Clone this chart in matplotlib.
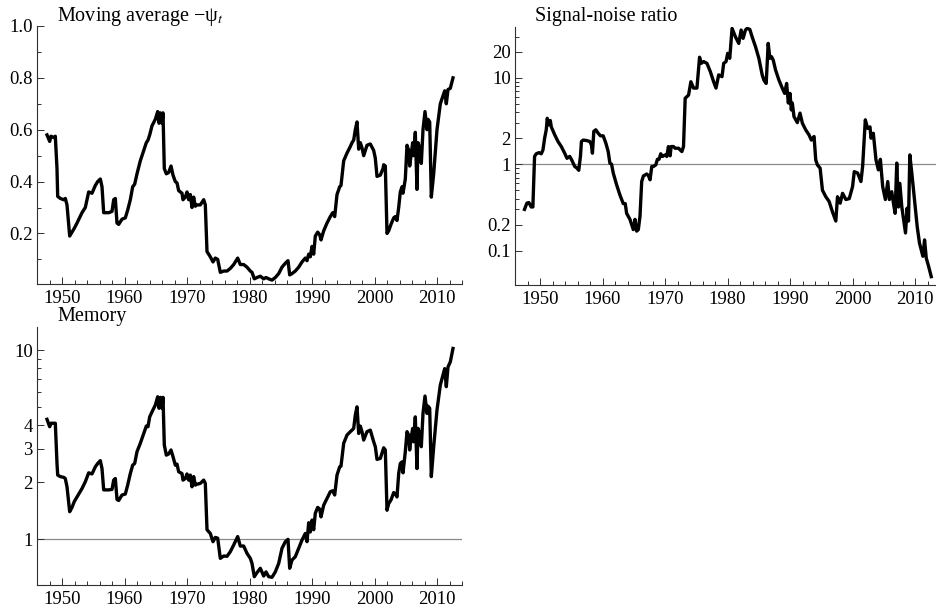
import matplotlib
matplotlib.use('Agg')
import matplotlib.pyplot as plt
from matplotlib.ticker import FixedLocator, FixedFormatter, NullFormatter

# ---------------- data ----------------
years_a = [
    1947.6, 1948.03, 1948.24, 1948.67, 1948.93, 1949.2, 1949.31, 1949.73,
    1950.27, 1950.53, 1950.8, 1951.23, 1951.6, 1951.97, 1952.4, 1953.2, 1953.73, 1954.27,
    1954.8, 1955.33, 1955.71, 1956.13, 1956.4, 1956.67, 1957.47, 1958.0, 1958.27, 1958.53,
    1958.8, 1959.07, 1959.6,
    1960.13, 1960.51, 1960.93, 1961.31, 1961.63, 1962.0, 1962.53, 1963.07, 1963.49, 1963.76,
    1964.03, 1964.4, 1964.93, 1965.31, 1965.52, 1965.73, 1966.0, 1966.16, 1966.37, 1966.69,
    1967.07, 1967.44, 1967.76, 1968.13, 1968.4, 1968.67, 1969.2, 1969.36, 1969.73,
    1970.0, 1970.27, 1970.53, 1970.8, 1971.07, 1971.33, 1971.6, 1972.13, 1972.67, 1972.93,
    1973.2, 1973.73, 1974.16, 1974.53, 1974.91, 1975.33, 1975.87, 1976.4, 1976.93, 1977.47,
    1978.11, 1978.53, 1979.07, 1979.6,
    1980.13, 1980.4, 1980.77, 1981.2, 1981.73, 1982.27, 1982.64, 1983.07, 1983.6, 1984.13,
    1984.67, 1985.2, 1985.73, 1986.16, 1986.43, 1986.8, 1987.33, 1987.87, 1988.4, 1988.93,
    1989.2, 1989.47, 1989.73,
    1990.0, 1990.27, 1990.53, 1990.91, 1991.23, 1991.44, 1991.87, 1992.4, 1992.93, 1993.31,
    1993.63, 1994.0, 1994.43, 1994.64, 1995.07, 1995.6, 1996.13, 1996.4, 1996.67, 1996.93,
    1997.2, 1997.47, 1997.73, 1998.0, 1998.27, 1998.8, 1999.33, 1999.87,
    2000.13, 2000.4, 2000.93, 2001.36, 2001.47, 2001.73, 2002.0, 2002.27, 2002.64, 2003.07,
    2003.33, 2003.6, 2003.87, 2004.13, 2004.4, 2004.56, 2004.93, 2005.2, 2005.47, 2005.63,
    2005.84, 2006.11, 2006.27, 2006.53, 2006.8, 2006.96, 2007.23, 2007.49, 2007.76, 2008.08,
    2008.4, 2008.56, 2008.83, 2009.09, 2009.47,
    2010.0, 2010.53, 2011.23, 2011.49, 2011.76, 2012.13, 2012.56,
]

moving_average = [
    0.58, 0.555, 0.575, 0.57, 0.575, 0.45, 0.343, 0.335,
    0.33, 0.335, 0.31, 0.19, 0.205, 0.22, 0.24, 0.28, 0.3, 0.36,
    0.355, 0.385, 0.40, 0.41, 0.38, 0.28, 0.28, 0.285, 0.33, 0.335,
    0.24, 0.235, 0.255,
    0.26, 0.29, 0.33, 0.38, 0.39, 0.43, 0.48, 0.52, 0.55, 0.56,
    0.58, 0.615, 0.64, 0.67, 0.625, 0.665, 0.625, 0.665, 0.45, 0.43,
    0.435, 0.46, 0.425, 0.40, 0.395, 0.365, 0.355, 0.33, 0.34,
    0.36, 0.33, 0.35, 0.30, 0.34, 0.305, 0.31, 0.31, 0.33, 0.31,
    0.13, 0.11, 0.09, 0.105, 0.1, 0.05, 0.055, 0.055, 0.065, 0.08,
    0.105, 0.08, 0.08, 0.07,
    0.055, 0.05, 0.025, 0.03, 0.035, 0.025, 0.03, 0.025, 0.02, 0.03,
    0.045, 0.07, 0.085, 0.095, 0.04, 0.045, 0.055, 0.07, 0.09, 0.105,
    0.095, 0.12, 0.11,
    0.15, 0.12, 0.19, 0.205, 0.195, 0.175, 0.21, 0.24, 0.265, 0.28,
    0.265, 0.35, 0.38, 0.385, 0.48, 0.51, 0.535, 0.55, 0.56, 0.6,
    0.63, 0.525, 0.55, 0.53, 0.50, 0.54, 0.545, 0.52,
    0.49, 0.42, 0.425, 0.45, 0.465, 0.46, 0.2, 0.21, 0.235, 0.26,
    0.265, 0.25, 0.3, 0.36, 0.38, 0.355, 0.41, 0.54, 0.52, 0.46,
    0.5, 0.55, 0.5, 0.59, 0.37, 0.55, 0.53, 0.47, 0.6, 0.67,
    0.6, 0.64, 0.63, 0.34, 0.43,
    0.6, 0.7, 0.75, 0.7, 0.755, 0.76, 0.80,
]

memory = [
    4.3, 3.93, 4.1, 4.1, 4.1, 2.51, 2.18, 2.14,
    2.12, 2.09, 1.89, 1.395, 1.47, 1.58, 1.67, 1.85, 2.01, 2.24,
    2.21, 2.41, 2.51, 2.6, 2.36, 1.82, 1.82, 1.83, 2.05, 2.09,
    1.62, 1.6, 1.71,
    1.73, 1.93, 2.22, 2.46, 2.51, 2.9, 3.21, 3.62, 3.96, 3.93,
    4.43, 4.71, 5.11, 5.66, 4.92, 5.62, 4.92, 5.62, 3.14, 2.78,
    2.82, 2.96, 2.73, 2.46, 2.49, 2.27, 2.22, 2.05, 2.09,
    2.21, 2.05, 2.18, 1.89, 2.14, 1.93, 1.95, 1.97, 2.05, 1.97,
    1.12, 1.07, 0.968, 1.02, 1.01, 0.79, 0.813, 0.81, 0.857, 0.93,
    1.03, 0.918, 0.918, 0.84,
    0.79, 0.743, 0.632, 0.664, 0.70, 0.637, 0.67, 0.632, 0.627, 0.67,
    0.743, 0.893, 0.968, 0.996, 0.70, 0.774, 0.806, 0.893, 0.988, 1.07,
    0.968, 1.22, 1.09,
    1.26, 1.12, 1.37, 1.47, 1.44, 1.31, 1.51, 1.64, 1.78, 1.80,
    1.71, 2.18, 2.41, 2.43, 3.21, 3.55, 3.7, 3.77, 3.85, 4.53,
    5.01, 3.62, 3.96, 3.7, 3.34, 3.7, 3.77, 3.27,
    3.08, 2.64, 2.67, 2.96, 3.04, 2.96, 1.42, 1.54, 1.61, 1.76,
    1.74, 1.67, 2.22, 2.51, 2.56, 2.24, 2.9, 3.7, 3.55, 2.96,
    3.41, 3.85, 3.27, 4.43, 2.36, 3.85, 3.62, 3.08, 4.62, 5.71,
    4.62, 5.05, 4.92, 2.14, 3.08,
    4.82, 6.53, 7.98, 6.4, 8.14, 8.66, 10.2,
]

years_s = [
    1947.52, 1947.9, 1948.22, 1948.59, 1948.86, 1949.13, 1949.4, 1949.83,
    1950.2, 1950.47, 1950.74, 1951.0, 1951.16, 1951.38, 1951.65, 1951.81, 1952.34, 1952.88,
    1953.41, 1953.95, 1954.32, 1954.75, 1955.02, 1955.56, 1955.93, 1956.2, 1956.47, 1956.63,
    1956.9, 1957.43, 1957.97, 1958.23, 1958.39, 1958.61, 1958.93, 1959.31, 1959.68,
    1960.11, 1960.54, 1960.91, 1961.18, 1961.45, 1961.72, 1962.25, 1962.79, 1963.32, 1963.64,
    1963.86, 1964.39, 1964.93, 1965.2, 1965.47, 1965.73, 1966.0, 1966.27, 1966.54, 1967.07,
    1967.34, 1967.61, 1967.88, 1968.14, 1968.52, 1968.79, 1969.05, 1969.32, 1969.59,
    1970.02, 1970.29, 1970.55, 1970.82, 1970.98, 1971.36, 1971.62, 1972.16, 1972.7, 1972.96,
    1973.23, 1973.77, 1974.14, 1974.57, 1975.11, 1975.53, 1975.8, 1976.18, 1976.71, 1977.25,
    1977.78, 1978.16, 1978.59, 1979.12, 1979.39, 1979.77,
    1980.03, 1980.36, 1980.73, 1981.27, 1981.8, 1982.18, 1982.5, 1982.87, 1983.14, 1983.57,
    1983.94, 1984.48, 1985.02, 1985.55, 1985.82, 1986.19, 1986.51, 1986.78, 1987.05, 1987.32,
    1987.69, 1988.23, 1988.76, 1989.14, 1989.46, 1989.73,
    1990.0, 1990.21, 1990.37, 1990.64, 1991.17, 1991.6, 1991.98, 1992.51, 1993.05, 1993.42,
    1993.85, 1994.12, 1994.39, 1994.82, 1995.19, 1995.73, 1996.26, 1996.8, 1997.33, 1997.6,
    1998.03, 1998.41, 1998.94, 1999.48,
    2000.01, 2000.28, 2000.82, 2001.35, 2001.62, 2002.05, 2002.42, 2002.8, 2002.96, 2003.33,
    2003.76, 2004.14, 2004.46, 2004.83, 2005.26, 2005.64, 2005.9, 2006.28, 2006.55, 2006.82,
    2007.08, 2007.35, 2007.57, 2007.89, 2008.21, 2008.48, 2008.74, 2008.96, 2009.17, 2009.49,
    2009.92,
    2010.35, 2010.72, 2011.26, 2011.53, 2011.8, 2012.17, 2012.6,
]

signal_noise = [
    0.30, 0.354, 0.36, 0.32, 0.32, 1.23, 1.32, 1.36,
    1.32, 1.46, 2.0, 2.5, 3.4, 2.85, 3.2, 2.7, 2.2, 1.83,
    1.6, 1.34, 1.17, 1.23, 1.14, 0.94, 0.9, 0.85, 1.23, 1.83,
    1.9, 1.88, 1.83, 1.67, 1.34, 2.4, 2.5, 2.28, 2.13,
    2.13, 1.75, 1.4, 1.03, 1.0, 0.79, 0.58, 0.44, 0.35, 0.35,
    0.27, 0.23, 0.175, 0.23, 0.168, 0.175, 0.25, 0.63, 0.73, 0.77,
    0.74, 0.66, 0.94, 0.94, 0.98, 1.14, 1.14, 1.32, 1.23,
    1.28, 1.23, 1.6, 1.25, 1.6, 1.6, 1.53, 1.53, 1.4, 1.6,
    5.8, 6.3, 9.0, 7.6, 7.6, 17.3, 14.7, 15.4, 14.7, 11.8,
    9.0, 7.6, 10.8, 10.3, 14.7, 15.4,
    19.2, 16.8, 37.3, 29.8, 25.0, 35.7, 28.6, 35.7, 37.3, 36.3,
    29.8, 22.9, 16.8, 10.8, 9.4, 8.6, 25.0, 16.8, 17.5, 16.0,
    12.3, 9.4, 7.6, 6.6, 8.6, 5.1,
    6.6, 4.25, 5.1, 3.55, 3.03, 3.9, 2.98, 2.5, 2.18, 1.9,
    2.09, 1.12, 0.98, 0.9, 0.5, 0.42, 0.37, 0.28, 0.22, 0.42,
    0.354, 0.46, 0.39, 0.4,
    0.55, 0.82, 0.79, 0.63, 0.94, 3.26, 2.6, 2.7, 2.0, 2.28,
    1.12, 0.86, 1.14, 0.55, 0.39, 0.63, 0.39, 0.48, 0.354, 0.27,
    1.03, 0.32, 0.6, 0.32, 0.22, 0.16, 0.31, 0.22, 1.28, 0.79,
    0.39,
    0.19, 0.122, 0.086, 0.133, 0.082, 0.066, 0.05,
]

x_major = [1950, 1960, 1970, 1980, 1990, 2000, 2010]
x_labels = ['1950', '1960', '1970', '1980', '1990', '2000', '2010']
x_minor = [y for y in range(1948, 2015, 2) if y % 10 != 0]

ma_ticks = [0.2, 0.4, 0.6, 0.8, 1.0]
ma_labels = ['0.2', '0.4', '0.6', '0.8', '1.0']
ma_minor = [0.1, 0.3, 0.5, 0.7, 0.9]

snr_ticks = [0.1, 0.2, 1, 2, 10, 20]
snr_labels = ['0.1', '0.2', '1', '2', '10', '20']
snr_minor = [0.3, 0.4, 0.5, 0.6, 0.7, 0.8, 0.9, 3, 4, 5, 6, 7, 8, 9, 30]

mem_ticks = [1, 2, 3, 4, 10]
mem_labels = ['1', '2', '3', '4', '10']
mem_minor = [5, 6, 7, 8, 9]

# ---------------- figure ----------------
plt.rcParams['font.family'] = ['Liberation Serif', 'DejaVu Serif']
plt.rcParams['mathtext.fontset'] = 'stix'

W, H = 936, 615
fig = plt.figure(figsize=(W / 100, H / 100), dpi=100)


def add_ax(l, t, r, b):
    return fig.add_axes([l / W, 1 - b / H, (r - l) / W, (b - t) / H])


AXC = '#303030'
TICK_FS = 13.5
TITLE_FS = 14.5


def style(ax):
    for s in ('top', 'right'):
        ax.spines[s].set_visible(False)
    for s in ('left', 'bottom'):
        ax.spines[s].set_color(AXC)
        ax.spines[s].set_linewidth(0.8)
    ax.tick_params(which='both', direction='in', color=AXC, width=0.7,
                   labelsize=TICK_FS, labelcolor='black')
    ax.tick_params(which='major', length=5)
    ax.tick_params(which='minor', length=3)
    ax.tick_params(axis='x', pad=4)
    ax.tick_params(axis='y', pad=3)
    ax.set_xlim(1946, 2014)
    ax.xaxis.set_major_locator(FixedLocator(x_major))
    ax.xaxis.set_major_formatter(FixedFormatter(x_labels))
    ax.xaxis.set_minor_locator(FixedLocator(x_minor))
    ax.xaxis.set_minor_formatter(NullFormatter())


def set_y(ax, ticks, labels, minor):
    ax.yaxis.set_major_locator(FixedLocator(ticks))
    ax.yaxis.set_major_formatter(FixedFormatter(labels))
    ax.yaxis.set_minor_locator(FixedLocator(minor))
    ax.yaxis.set_minor_formatter(NullFormatter())


LW = 2.4

# Moving average
ax1 = add_ax(37, 26, 462, 284)
style(ax1)
ax1.plot(years_a, moving_average, color='black', lw=LW)
ax1.set_ylim(0.005, 1.0)
set_y(ax1, ma_ticks, ma_labels, ma_minor)

# Signal-noise ratio
ax2 = add_ax(515, 26.7, 940, 285)
style(ax2)
ax2.set_yscale('log')
ax2.axhline(1, color='#8a8a8a', lw=0.9, zorder=1)
ax2.plot(years_s, signal_noise, color='black', lw=LW, zorder=2)
ax2.set_ylim(0.04, 39)
set_y(ax2, snr_ticks, snr_labels, snr_minor)

# Memory
ax3 = add_ax(37, 327.3, 462, 585)
style(ax3)
ax3.set_yscale('log')
ax3.axhline(1, color='#8a8a8a', lw=0.9, zorder=1)
ax3.plot(years_a, memory, color='black', lw=LW, zorder=2)
ax3.set_ylim(0.571, 13.2)
set_y(ax3, mem_ticks, mem_labels, mem_minor)

# titles
fig.text(57 / W, 1 - 21.5 / H, 'Moving average \u2212\u03c8$_t$', fontsize=TITLE_FS,
         va='baseline', ha='left')
fig.text(535 / W, 1 - 21.5 / H, 'Signal-noise ratio', fontsize=TITLE_FS,
         va='baseline', ha='left')
fig.text(57 / W, 1 - 321.5 / H, 'Memory', fontsize=TITLE_FS, va='baseline', ha='left')

fig.savefig('out.png', dpi=100)
